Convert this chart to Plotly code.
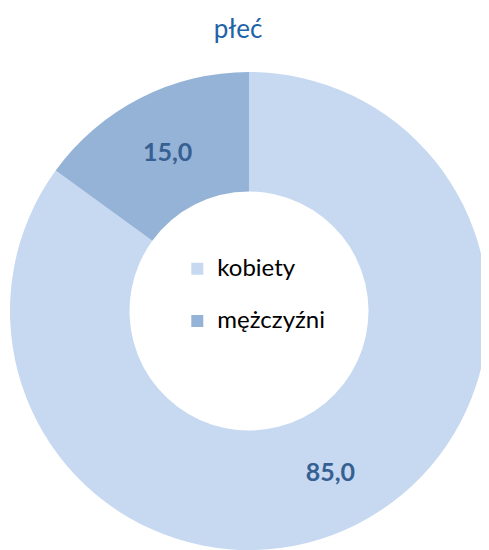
import plotly.graph_objects as go

categories = ["kobiety", "mężczyźni"]
values = [85.0, 15.0]
colors = ["#C6D9F1", "#95B3D7"]
title_text = "płeć"

legend_labels = ["<span style='font-size:24px'>" + c + "</span><br> " for c in categories]

W, H = 481, 542

fig = go.Figure(
    go.Pie(
        labels=legend_labels,
        values=values,
        customdata=categories,
        hole=0.5,
        sort=False,
        direction="clockwise",
        rotation=0,
        marker=dict(colors=colors, line=dict(width=0)),
        textposition="inside",
        insidetextorientation="horizontal",
        texttemplate="%{value:.1f}",
        textfont=dict(family="Lato", size=25, color="#376092", weight="bold"),
        hovertemplate="%{customdata}: %{value:.1f}<extra></extra>",
    )
)

fig.update_layout(
    width=W,
    height=H,
    margin=dict(l=2, r=1, t=64, b=0),
    paper_bgcolor="white",
    plot_bgcolor="white",
    separators=", ",
    title=dict(
        text=title_text,
        x=230 / W,
        xanchor="center",
        y=1 - 21 / H,
        yanchor="middle",
        font=dict(family="Lato", size=26, color="#1F63A8"),
    ),
    showlegend=True,
    legend=dict(
        x=0.35,
        xanchor="left",
        y=0.628,
        yanchor="top",
        valign="top",
        bgcolor="rgba(0,0,0,0)",
        font=dict(family="Lato", size=19, color="#000000"),
    ),
)

fig.write_html("out.html")
